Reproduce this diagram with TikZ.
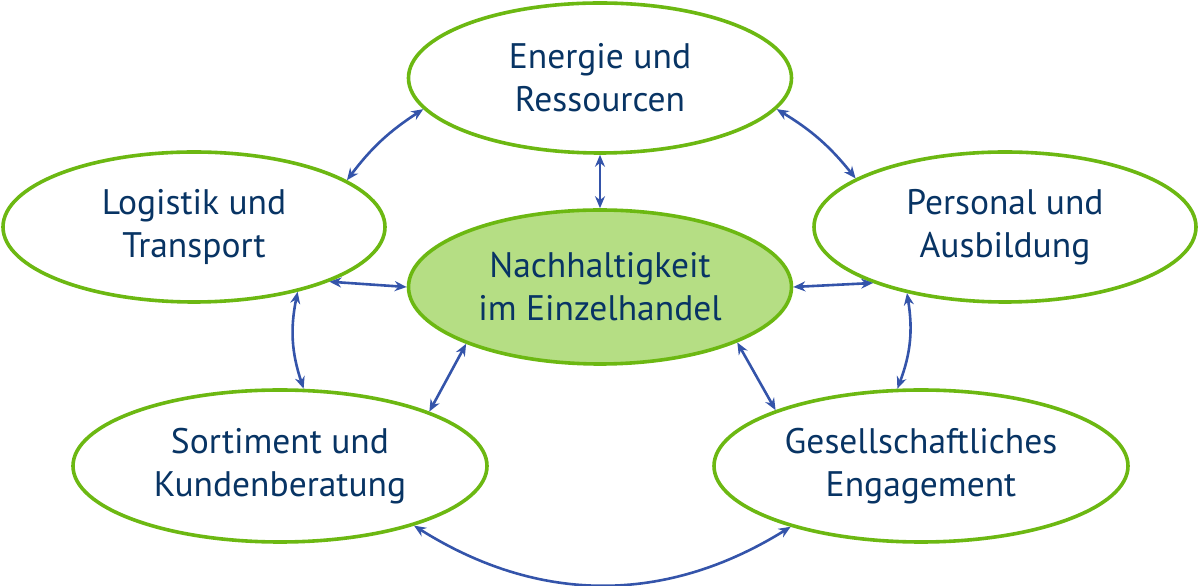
\documentclass[tikz,border=0pt]{standalone}
\usepackage{fontspec}
\setmainfont{PT Sans}
\usetikzlibrary{shapes.geometric,arrows.meta}
\definecolor{egreen}{RGB}{108,184,18}
\definecolor{efill}{RGB}{181,222,132}
\definecolor{navy}{RGB}{8,52,100}
\definecolor{ablue}{RGB}{52,84,170}
\begin{document}
\begin{tikzpicture}[x=1pt,y=1pt,
  topic/.style={ellipse, draw=egreen, line width=3.6pt, fill=white, inner sep=0pt,
    align=center, text=navy, font=\fontsize{35.5}{43}\selectfont},
  link/.style={draw=ablue, line width=2.6pt,
    {Stealth[length=12pt,width=10pt]}-{Stealth[length=12pt,width=10pt]}}]
\useasboundingbox (0,0) rectangle (1200,586);
\node[topic, minimum width=383pt, minimum height=150pt] (en) at (600,508) {Energie und\\Ressourcen};
\node[topic, minimum width=382pt, minimum height=150pt] (lo) at (194,359) {Logistik und\\Transport};
\node[topic, minimum width=382pt, minimum height=150pt] (pe) at (1005,359) {Personal und\\Ausbildung};
\node[topic, fill=efill, minimum width=383pt, minimum height=154pt] (ce) at (600,299) {Nachhaltigkeit\\im Einzelhandel};
\node[topic, minimum width=414pt, minimum height=152pt] (so) at (280,120) {Sortiment und\\Kundenberatung};
\node[topic, minimum width=414pt, minimum height=152pt] (ge) at (921,120) {Gesellschaftliches\\Engagement};
\draw[link] (en.-90) -- (ce.90);
\draw[link] (en.-170.3) to[bend right=10] (lo.17.6);
\draw[link] (en.-10.9) to[bend left=10] (pe.162.6);
\draw[link] (lo.-22.1) -- (ce.180);
\draw[link] (pe.-157.8) -- (ce.0);
\draw[link] (lo.-32.6) to[bend right=15] (so.73.6);
\draw[link] (pe.-146.6) to[bend left=15] (ge.107);
\draw[link] (ce.-157.8) -- (so.20.7);
\draw[link] (ce.-22.2) -- (ge.159.3);
\draw[link] (so.-24.6) to[bend right=32] (ge.-155.4);
\end{tikzpicture}
\end{document}
